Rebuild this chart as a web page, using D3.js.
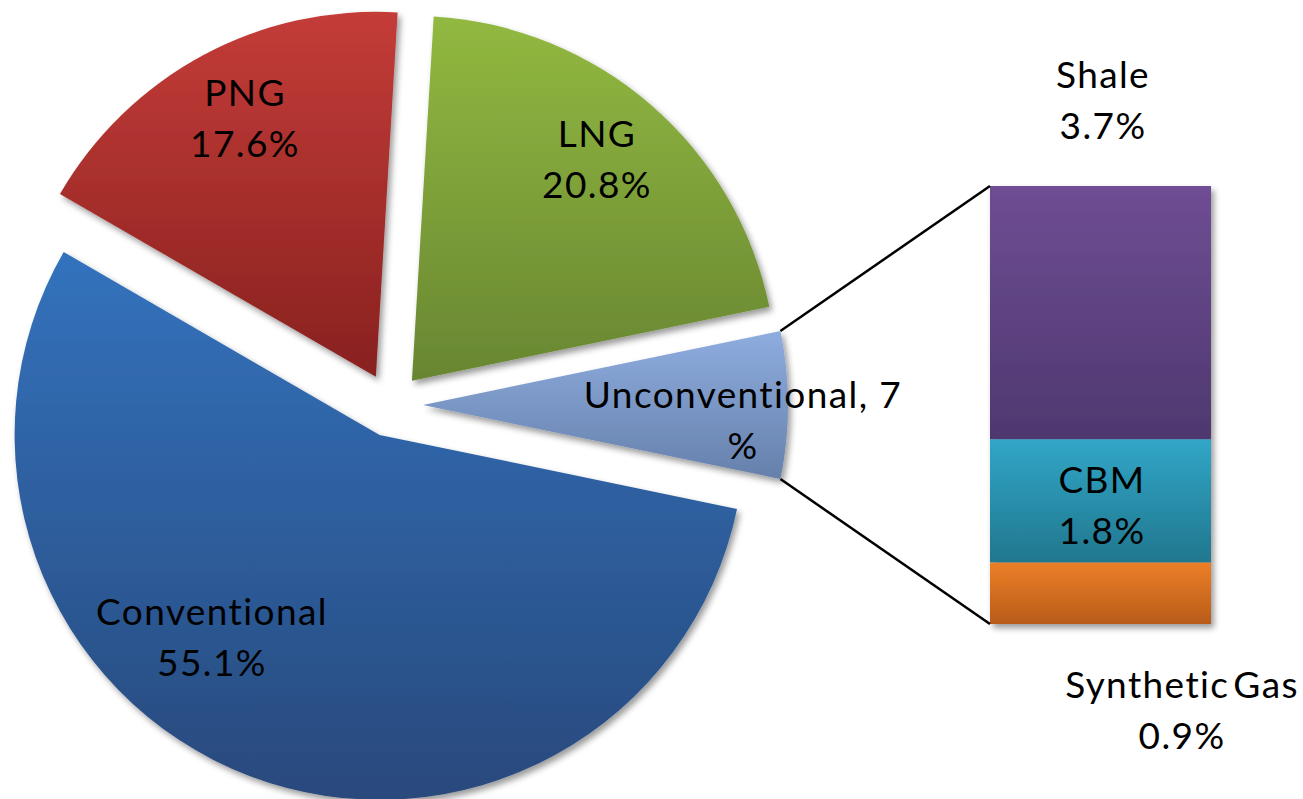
<!DOCTYPE html>
<html>
<head>
<meta charset="utf-8">
<script src="https://cdn.jsdelivr.net/npm/d3@7"></script>
<style>
  html, body { margin: 0; padding: 0; background: #ffffff; }
  svg { display: block; }
  text { font-family: Lato, "Open Sans", sans-serif; font-size: 37px; letter-spacing: 1.4px; fill: #000; }
</style>
</head>
<body>
<svg id="chart" width="1303" height="799"></svg>
<script>
// Gas supply shares (%) — main pie
const categories = ["Conventional", "PNG", "LNG", "Unconventional"];
const shares = [55.1, 17.6, 20.8, 6.5];

// Breakdown of the unconventional slice (%) — stacked bar
const subCategories = ["Shale", "CBM", "Synthetic Gas"];
const subShares = [3.7, 1.8, 0.9];

// Fill gradients (top, bottom)
const fills = {
  "Conventional":   ["#3272bd", "#29497c"],
  "PNG":            ["#c43c38", "#88211f"],
  "LNG":            ["#92b940", "#688632"],
  "Unconventional": ["#8eaddf", "#6680ab"],
  "Shale":          ["#6f4d94", "#4e386f"],
  "CBM":            ["#31a6c7", "#21778e"],
  "Synthetic Gas":  ["#ec7f28", "#b85c19"]
};

// Layout
const W = 1303, H = 799;
const cx = 391, cy = 405, R = 365, explode = 32;
const bar = { x: 990, width: 221, top: 186, bottom: 624 };
const lineGap = 51;
const labelPos = {
  "Conventional":   { x: 212,  y: 625 },
  "PNG":            { x: 245,  y: 106 },
  "LNG":            { x: 597,  y: 147 },
  "Unconventional": { x: 743,  y: 408 },
  "Shale":          { x: 1103, y: 88 },
  "CBM":            { x: 1102, y: 493 },
  "Synthetic Gas":  { x: 1182, y: 698 }
};

const svg = d3.select("#chart");
const defs = svg.append("defs");

Object.entries(fills).forEach(([name, [c0, c1]], i) => {
  const g = defs.append("linearGradient")
    .attr("id", "grad" + i)
    .attr("x1", 0).attr("y1", 0).attr("x2", 0).attr("y2", 1);
  g.append("stop").attr("offset", "0%").attr("stop-color", c0);
  g.append("stop").attr("offset", "100%").attr("stop-color", c1);
  fills[name].id = "grad" + i;
});

const shadow = defs.append("filter").attr("id", "shadow")
  .attr("x", "-10%").attr("y", "-10%").attr("width", "130%").attr("height", "130%");
shadow.append("feDropShadow")
  .attr("dx", 3).attr("dy", 4).attr("stdDeviation", 3)
  .attr("flood-color", "#000").attr("flood-opacity", 0.4);

// ---- Pie ----
const total = d3.sum(shares);
const uIndex = categories.indexOf("Unconventional");
const uAngle = shares[uIndex] / total * 2 * Math.PI;
const start = Math.PI / 2 + uAngle / 2;   // unconventional slice centred on 3 o'clock

const pie = d3.pie().sort(null).value(d => d.value)
  .startAngle(start).endAngle(start + 2 * Math.PI);
const arcs = pie(categories.map((c, i) => ({ name: c, value: shares[i] })));
const arc = d3.arc().innerRadius(0).outerRadius(R);

const offsetOf = a => {
  const m = (a.startAngle + a.endAngle) / 2;
  return [explode * Math.sin(m), -explode * Math.cos(m)];
};

const pieG = svg.append("g").attr("transform", `translate(${cx},${cy})`);
pieG.selectAll("path.slice")
  .data(arcs)
  .join("path")
  .attr("class", "slice")
  .attr("transform", d => { const [ox, oy] = offsetOf(d); return `translate(${ox},${oy})`; })
  .attr("d", arc)
  .attr("fill", d => `url(#${fills[d.data.name].id})`)
  .attr("filter", "url(#shadow)");

// ---- Stacked bar ----
const subTotal = d3.sum(subShares);
const y = d3.scaleLinear().domain([0, subTotal]).range([bar.bottom, bar.top]);
// stack from the bottom: last category sits lowest
const order = subCategories.map((c, i) => i).reverse();
let acc = 0;
const segments = order.map(i => {
  const s = { name: subCategories[i], value: subShares[i], y0: acc, y1: acc + subShares[i] };
  acc += subShares[i];
  return s;
});

svg.append("g").attr("filter", "url(#shadow)")
  .selectAll("rect")
  .data(segments)
  .join("rect")
  .attr("x", bar.x)
  .attr("width", bar.width)
  .attr("y", d => y(d.y1))
  .attr("height", d => y(d.y0) - y(d.y1))
  .attr("fill", d => `url(#${fills[d.name].id})`);

// ---- Connector lines from the unconventional slice to the bar ----
const u = arcs[uIndex];
const [uox, uoy] = offsetOf(u);
const pt = a => [cx + uox + R * Math.sin(a), cy + uoy - R * Math.cos(a)];
const [tx, ty] = pt(u.startAngle);
const [bx, by] = pt(u.endAngle);
svg.append("line").attr("x1", tx).attr("y1", ty).attr("x2", bar.x).attr("y2", y(subTotal))
  .attr("stroke", "#000").attr("stroke-width", 2.5);
svg.append("line").attr("x1", bx).attr("y1", by).attr("x2", bar.x).attr("y2", y(0))
  .attr("stroke", "#000").attr("stroke-width", 2.5);

// ---- Labels ----
const fmt1 = d3.format(".1f");
function label(name, lines) {
  const p = labelPos[name];
  const t = svg.append("text").attr("text-anchor", "middle");
  lines.forEach((ln, i) => {
    t.append("tspan").attr("x", p.x).attr("y", p.y + i * lineGap).text(ln);
  });
  if (name === "Synthetic Gas") t.attr("word-spacing", "-7px");
}
categories.forEach((c, i) => {
  if (c === "Unconventional") {
    label(c, [`${c}, ${Math.round(shares[i])}`, "%"]);
  } else {
    label(c, [c, fmt1(shares[i]) + "%"]);
  }
});
subCategories.forEach((c, i) => label(c, [c, fmt1(subShares[i]) + "%"]));
</script>
</body>
</html>
